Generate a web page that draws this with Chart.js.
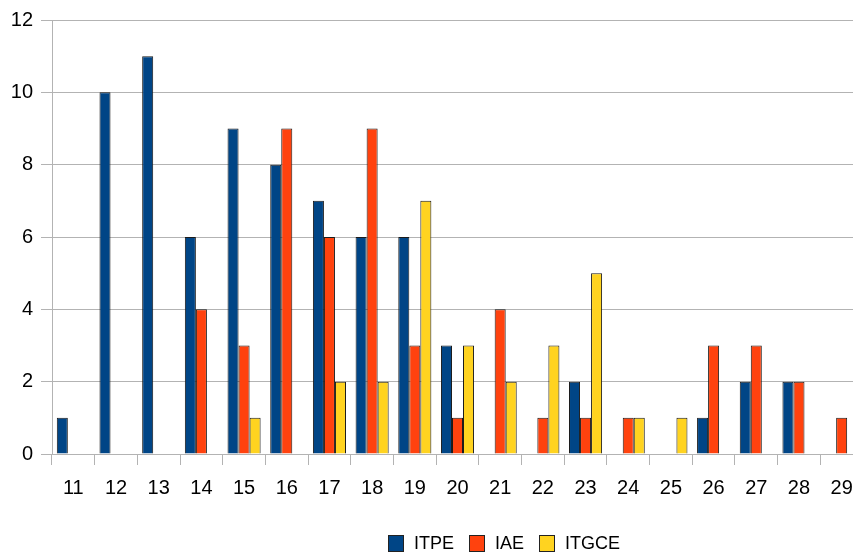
<!DOCTYPE html>
<html>
<head>
<meta charset="utf-8">
<script src="https://cdn.jsdelivr.net/npm/chart.js@4/dist/chart.umd.min.js"></script>
<style>
  html, body { margin: 0; padding: 0; background: #fff; overflow: hidden; }
  #wrap { position: relative; width: 880px; height: 555px; }
  #legend { position: absolute; left: 388px; top: 533px; display: flex; align-items: center;
            font-family: "Liberation Sans", Arial, sans-serif; font-size: 18px; color: #000; }
  .item { display: flex; align-items: center; margin-right: 15px; }
  .box { width: 14px; height: 15px; border: 1px solid #222; box-sizing: content-box; margin-right: 10px; }
</style>
</head>
<body>
<div id="wrap">
  <canvas id="c" width="880" height="555"></canvas>
  <div id="legend"></div>
</div>
<script>
const categories = ['11','12','13','14','15','16','17','18','19','20','21','22','23','24','25','26','27','28','29'];
const itpe  = [1, 10, 11, 6, 9, 8, 7, 6, 6, 3, 0, 0, 2, 0, 0, 1, 2, 2, 0];
const iae   = [0, 0, 0, 4, 3, 9, 6, 9, 3, 1, 4, 1, 1, 1, 0, 3, 3, 2, 1];
const itgce = [0, 0, 0, 0, 1, 0, 2, 2, 7, 3, 2, 3, 5, 1, 1, 0, 0, 0, 0];
const yTicks = [0, 2, 4, 6, 8, 10, 12];

const seriesNames = ['ITPE', 'IAE', 'ITGCE'];
const seriesColors = ['#004586', '#ff420e', '#ffd320'];
const seriesData = [itpe, iae, itgce];

const font = { family: '"Liberation Sans", Arial, sans-serif', size: 20 };

const chart = new Chart(document.getElementById('c'), {
  type: 'bar',
  data: {
    labels: categories,
    datasets: seriesData.map((d, i) => ({
      label: seriesNames[i],
      data: d,
      backgroundColor: seriesColors[i],
      borderColor: '#1a1a1a',
      borderWidth: 1,
      categoryPercentage: 0.775,
      barPercentage: 1.0
    }))
  },
  options: {
    responsive: false,
    animation: false,
    layout: { padding: { top: 20, right: 17, left: 0, bottom: 0 } },
    plugins: { legend: { display: false }, tooltip: { enabled: false } },
    scales: {
      x: {
        grid: { display: true, drawOnChartArea: false, offset: true, color: '#b3b3b3', tickLength: 11, tickWidth: 1 },
        border: { color: '#b3b3b3' },
        ticks: { color: '#000', font: font, padding: 11, maxRotation: 0, autoSkip: false },
        afterFit: s => { s.height = 101; }
      },
      y: {
        min: 0, max: 12,
        afterBuildTicks: s => { s.ticks = yTicks.map(v => ({ value: v })); },
        grid: { color: '#b3b3b3', tickLength: 11, tickWidth: 1 },
        border: { color: '#b3b3b3' },
        ticks: { color: '#000', font: font, padding: 8 },
        afterFit: s => { s.width = 52; }
      }
    }
  }
});

// legend built from the datasets
const legend = document.getElementById('legend');
chart.data.datasets.forEach(ds => {
  const item = document.createElement('div');
  item.className = 'item';
  const box = document.createElement('span');
  box.className = 'box';
  box.style.background = ds.backgroundColor;
  const txt = document.createElement('span');
  txt.textContent = ds.label;
  item.appendChild(box);
  item.appendChild(txt);
  legend.appendChild(item);
});
</script>
</body>
</html>
